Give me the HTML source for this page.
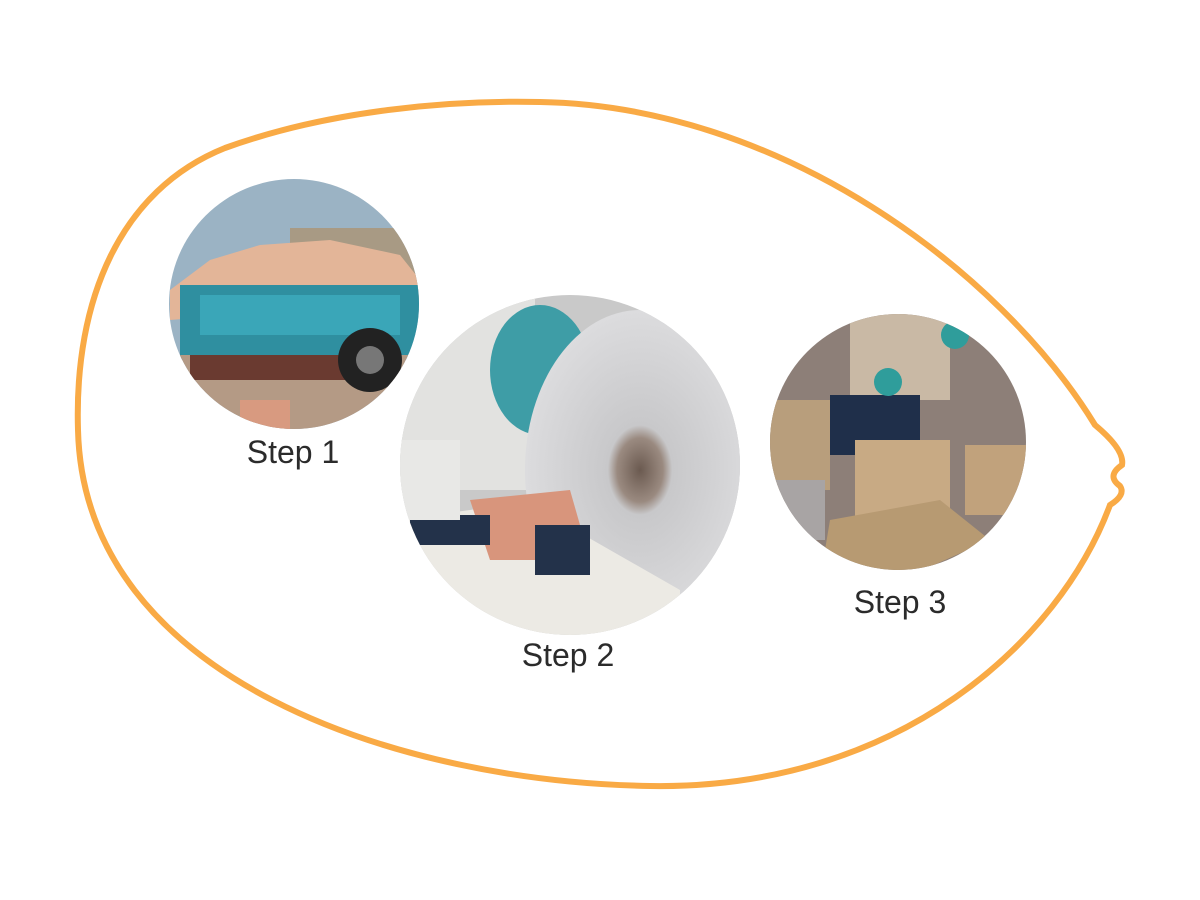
<!DOCTYPE html>
<html><head><meta charset="utf-8"><style>
html,body{margin:0;padding:0;background:#fff;}
svg{display:block}
text{font-family:"Liberation Sans",sans-serif;font-size:32px;fill:#2b2b2b;text-anchor:middle}
</style></head><body>
<svg width="1200" height="900" viewBox="0 0 1200 900" xmlns="http://www.w3.org/2000/svg">
<defs>
<clipPath id="c1"><circle cx="294" cy="304" r="125"/></clipPath>
<clipPath id="c2"><circle cx="570" cy="465" r="170"/></clipPath>
<clipPath id="c3"><circle cx="898" cy="442" r="128"/></clipPath>
<radialGradient id="disk" cx="0.5" cy="0.5" r="0.5">
<stop offset="0" stop-color="#6b5a50"/><stop offset="0.2" stop-color="#9a8a80"/><stop offset="0.28" stop-color="#c8c8ca"/><stop offset="1" stop-color="#dcdcde"/></radialGradient>
</defs>
<path d="M78 430 C 74 300, 120 190, 225 148 C 330 110, 450 100, 540 102 C 780 106, 1000 270, 1095 425 Q 1125 450 1122 465 Q 1106 476 1120 486 Q 1126 495 1110 505 C 1060 640, 900 790, 650 786 C 400 782, 84 680, 78 430 Z" fill="none" stroke="#F9AA45" stroke-width="6"/>
<g clip-path="url(#c1)">
<rect x="160" y="170" width="270" height="270" fill="#9bb3c4"/>
<rect x="290" y="228" width="140" height="60" fill="#a89a84"/>
<path d="M170 290 L210 260 L260 245 L330 240 L400 255 L420 280 L420 300 L170 320 Z" fill="#e3b598"/>
<rect x="180" y="285" width="240" height="75" fill="#2f8fa0"/>
<rect x="200" y="295" width="200" height="40" fill="#3aa6b8"/>
<rect x="160" y="355" width="270" height="90" fill="#b49a85"/>
<rect x="190" y="355" width="160" height="25" fill="#6a3a30"/>
<circle cx="370" cy="360" r="32" fill="#222"/><circle cx="370" cy="360" r="14" fill="#777"/>
<rect x="240" y="400" width="50" height="30" fill="#d89a80"/>
</g>
<text x="293" y="463">Step 1</text>
<g clip-path="url(#c2)">
<rect x="395" y="290" width="350" height="350" fill="#c9c9c9"/>
<rect x="395" y="290" width="140" height="200" fill="#e2e2e0"/>
<ellipse cx="540" cy="370" rx="50" ry="65" fill="#3e9da6"/>
<ellipse cx="640" cy="470" rx="115" ry="160" fill="url(#disk)"/>
<path d="M395 520 L470 510 L540 500 L575 530 L680 590 L680 640 L395 640 Z" fill="#eceae4"/>
<path d="M470 500 L570 490 L590 560 L490 560 Z" fill="#d8957c"/>
<rect x="410" y="515" width="80" height="30" fill="#23324a"/>
<rect x="535" y="525" width="55" height="50" fill="#23324a"/>
<rect x="400" y="440" width="60" height="80" fill="#e8e8e6"/>
</g>
<text x="568" y="666">Step 2</text>
<g clip-path="url(#c3)">
<rect x="765" y="310" width="270" height="270" fill="#8d7f78"/>
<rect x="850" y="310" width="100" height="90" fill="#c9b9a5"/>
<rect x="830" y="395" width="90" height="60" fill="#1f2f4a"/>
<circle cx="888" cy="382" r="14" fill="#2f9d9b"/>
<circle cx="955" cy="335" r="14" fill="#2f9d9b"/>
<rect x="770" y="400" width="60" height="90" fill="#b89e7c"/>
<rect x="855" y="440" width="95" height="90" fill="#c8aa84"/>
<rect x="965" y="445" width="65" height="70" fill="#c1a27c"/>
<path d="M830 520 L940 500 L990 540 L900 580 L820 580 Z" fill="#b79a72"/>
<rect x="765" y="480" width="60" height="60" fill="#a8a4a4"/>
</g>
<text x="900" y="613">Step 3</text>
</svg>
</body></html>
